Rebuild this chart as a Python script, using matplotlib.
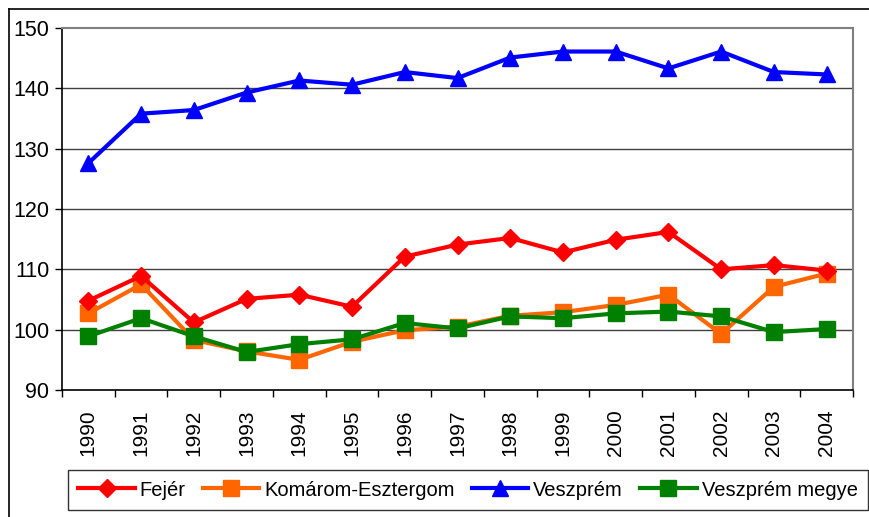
import matplotlib
matplotlib.use("Agg")
import matplotlib.pyplot as plt
from matplotlib.lines import Line2D
import numpy as np

years = [str(y) for y in range(1990, 2005)]
fejer = [104.8, 108.9, 101.2, 105.1, 105.8, 103.8, 112.1, 114.1, 115.2, 112.8, 114.9, 116.2, 110.0, 110.7, 109.8]
komarom = [102.7, 107.5, 98.3, 96.4, 95.0, 98.0, 99.9, 100.5, 102.3, 102.9, 104.1, 105.8, 99.3, 107.1, 109.3]
veszprem = [127.6, 135.8, 136.4, 139.3, 141.3, 140.6, 142.7, 141.7, 145.1, 146.1, 146.1, 143.3, 146.1, 142.7, 142.3]
veszprem_megye = [98.9, 101.9, 98.9, 96.3, 97.6, 98.4, 101.1, 100.2, 102.2, 101.9, 102.7, 103.0, 102.2, 99.6, 100.1]

plt.rcParams["font.family"] = ["Liberation Sans", "DejaVu Sans"]

fig = plt.figure(figsize=(8.69, 5.17), dpi=100)
W, H = 869, 517
ax = fig.add_axes([62 / W, 1 - 390 / H, (853 - 62) / W, (390 - 28) / H])

x = np.arange(len(years))
ax.plot(x, fejer, color="#ff0000", lw=3, marker="D", ms=9, label="Fejér", zorder=4)
ax.plot(x, komarom, color="#ff6600", lw=3, marker="s", ms=11, label="Komárom-Esztergom", zorder=3)
ax.plot(x, veszprem, color="#0000ff", lw=3, marker="^", ms=11, label="Veszprém", zorder=4)
ax.plot(x, veszprem_megye, color="#008000", lw=3, marker="s", ms=12, label="Veszprém megye", zorder=5)

ax.set_xlim(-0.5, len(years) - 0.5)
ax.set_ylim(90, 150)
ax.set_yticks(range(90, 151, 10))
ax.set_yticklabels([str(v) for v in range(90, 151, 10)], fontsize=15.5)
ax.set_xticks(x)
ax.set_xticklabels(years, rotation=90, fontsize=15)
ax.set_xticks(np.arange(-0.5, len(years), 1), minor=True)
ax.tick_params(axis="x", which="major", length=0, pad=14)
ax.tick_params(axis="x", which="minor", length=5, width=1, direction="out")
ax.tick_params(axis="y", length=5, width=1, direction="out", pad=4)

for v in range(100, 150, 10):
    ax.axhline(v, color="#404040", lw=1, zorder=1)
ax.spines["top"].set_color("#808080")
ax.spines["right"].set_color("#808080")
ax.spines["top"].set_linewidth(1.5)
ax.spines["right"].set_linewidth(1.5)
ax.spines["left"].set_linewidth(1.2)
ax.spines["bottom"].set_linewidth(1.2)

fig.legend(loc="center", bbox_to_anchor=(468 / W, 1 - 490 / H),
           ncol=4, fontsize=14.5, frameon=True, fancybox=False,
           edgecolor="black", handlelength=2.8, handletextpad=0.25, columnspacing=0.85,
           borderpad=0.5, borderaxespad=0)

# outer chart border
fig.add_artist(Line2D([9 / W, 1.01], [1 - 9 / H, 1 - 9 / H], color="black", lw=1.2))
fig.add_artist(Line2D([9 / W, 9 / W], [1 - 9 / H, -0.01], color="black", lw=1.2))

fig.savefig("out.png", dpi=100)
